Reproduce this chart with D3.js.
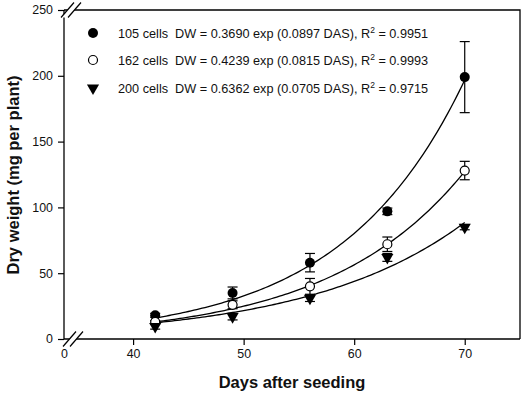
<!DOCTYPE html>
<html>
<head>
<meta charset="utf-8">
<script src="https://cdn.jsdelivr.net/npm/d3@7"></script>
<style>
  html, body { margin: 0; padding: 0; background: #fff; }
  svg { display: block; font-family: "Liberation Sans", Arial, sans-serif; }
  text { white-space: pre; }
</style>
</head>
<body>
<svg id="chart" width="522" height="396"></svg>
<script>
// ---- data ----
const days = [42, 49, 56, 63, 70];
const seriesNames = ["105 cells", "162 cells", "200 cells"];
const dw105 = [18, 35, 58, 97, 199];
const dw162 = [13, 26, 40, 72, 128];
const dw200 = [9.5, 17, 31, 62, 85];
const err105 = [1.5, 4.5, 7, 2.5, 27];
const err162 = [1, 3, 6, 5.5, 7];
const err200 = [2, 2.5, 2.5, 3, 2];
const fitA = [0.3690, 0.4239, 0.6362];
const fitB = [0.0897, 0.0815, 0.0705];
const fitR2 = ["0.9951", "0.9993", "0.9715"];
const fitA_label = ["0.3690", "0.4239", "0.6362"];
const fitB_label = ["0.0897", "0.0815", "0.0705"];
const xTicks = [0, 40, 50, 60, 70];
const yTicks = [0, 50, 100, 150, 200, 250];
const xTitle = "Days after seeding";
const yTitle = "Dry weight (mg per plant)";

const svg = d3.select("#chart");
const L = 64, R = 520, T = 10, B = 339;

// broken x scale: 0 sits at the left edge, the data part starts after the break
const x = d3.scaleLinear().domain([0, 33.75, 75]).range([L, L, R]);
const y = d3.scaleLinear().domain([0, 250]).range([B, T]);

// frame (top and right)
svg.append("path").attr("d", `M${L},${T}H${R}V${B}`)
  .attr("fill", "none").attr("stroke", "#000").attr("stroke-width", 1.3);

// x axis
const xAxis = svg.append("g").attr("transform", `translate(0,${B})`)
  .call(d3.axisBottom(x).tickValues(xTicks).tickSize(6).tickPadding(4).tickFormat(d3.format("d")));
// y axis
const yAxis = svg.append("g").attr("transform", `translate(${L},0)`)
  .call(d3.axisLeft(y).tickValues(yTicks).tickSize(6).tickPadding(5));
[xAxis, yAxis].forEach(g => {
  g.select(".domain").attr("stroke", "#000").attr("stroke-width", 1.3);
  g.selectAll(".tick line").attr("stroke", "#000").attr("stroke-width", 1.2);
  g.selectAll(".tick text").attr("font-size", 12.4).attr("fill", "#111")
    .attr("font-family", "'Liberation Sans', Arial, sans-serif");
});
xAxis.select(".domain").attr("d", `M${L},0H${R}`);
yAxis.select(".domain").attr("d", `M0,${B}V${T}`);
xAxis.selectAll(".tick").filter(d => d === 0).select("line").remove();

// break marks
function breakMark(cx, cy) {
  const g = svg.append("g");
  const dx = 7, h = 15, w = 13;
  g.append("path")
    .attr("d", `M${cx - dx/2 - w/2},${cy + h/2}L${cx - dx/2 + w/2},${cy - h/2}L${cx + dx/2 + w/2},${cy - h/2}L${cx + dx/2 - w/2},${cy + h/2}Z`)
    .attr("fill", "#fff").attr("stroke", "none");
  [-dx/2, dx/2].forEach(o => {
    g.append("line")
      .attr("x1", cx + o - w/2).attr("y1", cy + h/2)
      .attr("x2", cx + o + w/2).attr("y2", cy - h/2)
      .attr("stroke", "#000").attr("stroke-width", 1.2);
  });
}
breakMark(73, B);
breakMark(71, T);

// fitted curves
const line = d3.line().x(d => x(d[0])).y(d => y(d[1]));
const grid = d3.range(42, 70.001, 0.25);
fitA.forEach((a, i) => {
  const pts = grid.map(t => [t, a * Math.exp(fitB[i] * t)]);
  svg.append("path").datum(pts).attr("d", line)
    .attr("fill", "none").attr("stroke", "#000").attr("stroke-width", 1.3);
});

// error bars + markers
const allVals = [dw105, dw162, dw200];
const allErr = [err105, err162, err200];
const cap = 5;
const tri = d3.symbol().type(d3.symbolTriangle).size(64);

function drawMarker(g, i, cx, cy) {
  if (i === 0) {
    g.append("circle").attr("cx", cx).attr("cy", cy).attr("r", 5).attr("fill", "#000");
  } else if (i === 1) {
    g.append("circle").attr("cx", cx).attr("cy", cy).attr("r", 4.5)
      .attr("fill", "#fff").attr("stroke", "#000").attr("stroke-width", 1.2);
  } else {
    g.append("path").attr("d", tri).attr("transform", `translate(${cx},${cy}) rotate(180)`).attr("fill", "#000");
  }
}

allVals.forEach((vals, i) => {
  const g = svg.append("g");
  vals.forEach((v, j) => {
    const cx = x(days[j]);
    const e = allErr[i][j];
    const y1 = y(v + e), y2 = y(v - e);
    g.append("line").attr("x1", cx).attr("x2", cx).attr("y1", y1).attr("y2", y2)
      .attr("stroke", "#000").attr("stroke-width", 1.2);
    [y1, y2].forEach(yy => g.append("line").attr("x1", cx - cap).attr("x2", cx + cap)
      .attr("y1", yy).attr("y2", yy).attr("stroke", "#000").attr("stroke-width", 1.2));
    drawMarker(g, i, cx, y(v));
  });
});

// legend
const legY = [33, 60, 88];
seriesNames.forEach((name, i) => {
  const g = svg.append("g");
  drawMarker(g, i, 93, legY[i]);
  const t = g.append("text").attr("x", 118).attr("y", legY[i] + 4.5)
    .attr("font-size", 12.7).attr("fill", "#111");
  t.append("tspan").text(`${name}  DW = ${fitA_label[i]} exp (${fitB_label[i]} DAS), R`);
  t.append("tspan").attr("font-size", 8.5).attr("dy", -5).text("2");
  t.append("tspan").attr("dy", 5).text(` = ${fitR2[i]}`);
});

// axis titles
svg.append("text").attr("x", 292).attr("y", 388).attr("text-anchor", "middle")
  .attr("font-size", 16.5).attr("font-weight", "bold").attr("fill", "#111").text(xTitle);
svg.append("text").attr("transform", "translate(19,175) rotate(-90)").attr("text-anchor", "middle")
  .attr("font-size", 16.5).attr("font-weight", "bold").attr("fill", "#111").text(yTitle);
</script>
</body>
</html>
